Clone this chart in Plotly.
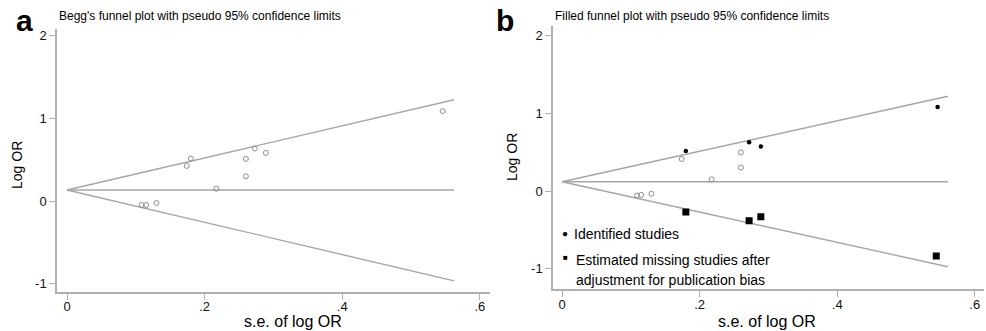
import plotly.graph_objects as go

W, H = 986, 331

# ---- data ----
# Panel a: Begg's funnel plot (identified studies)
se_a = [0.1085, 0.115, 0.130, 0.174, 0.180, 0.217, 0.260, 0.260, 0.273, 0.289, 0.546]
lor_a = [-0.048, -0.048, -0.024, 0.424, 0.513, 0.149, 0.299, 0.509, 0.634, 0.582, 1.087]
funnel_se_a = [0.0, 0.5625]
funnel_mid_a = [0.133, 0.133]
funnel_up_a = [0.133, 1.225]
funnel_lo_a = [0.133, -0.965]

# Panel b: filled funnel plot
se_b_open = [0.109, 0.115, 0.130, 0.174, 0.2176, 0.260, 0.260]
lor_b_open = [-0.058, -0.050, -0.035, 0.412, 0.150, 0.302, 0.497]
se_b_dot = [0.180, 0.272, 0.289, 0.546]
lor_b_dot = [0.514, 0.628, 0.572, 1.082]
se_b_fill = [0.180, 0.272, 0.289, 0.544]
lor_b_fill = [-0.270, -0.382, -0.330, -0.837]
funnel_se_b = [0.0, 0.561]
funnel_mid_b = [0.12, 0.12]
funnel_up_b = [0.12, 1.22]
funnel_lo_b = [0.12, -0.975]

xtick_vals = [0, 0.2, 0.4, 0.6]
xtick_text = ["0", ".2", ".4", ".6"]
ytick_vals = [-1, 0, 1, 2]
ytick_text = ["-1", "0", "1", "2"]

FONT = "Liberation Sans, Arial, Helvetica, sans-serif"
LINE_GRAY = "#a6a6a6"
AXIS_GRAY = "#b0b0b0"
PT_GRAY = "#8c8c8c"

fig = go.Figure()

def add_funnel(xs, mid, up, lo, xa, ya):
    for ys in (mid, up, lo):
        fig.add_trace(go.Scatter(x=xs, y=ys, mode="lines", xaxis=xa, yaxis=ya,
                                 line=dict(color=LINE_GRAY, width=1.4),
                                 showlegend=False, hoverinfo="skip"))

# panel a
add_funnel(funnel_se_a, funnel_mid_a, funnel_up_a, funnel_lo_a, "x", "y")
fig.add_trace(go.Scatter(x=se_a, y=lor_a, mode="markers", xaxis="x", yaxis="y",
                         marker=dict(symbol="circle-open", size=5, color=PT_GRAY,
                                     line=dict(width=1, color=PT_GRAY)),
                         showlegend=False))

# panel b
add_funnel(funnel_se_b, funnel_mid_b, funnel_up_b, funnel_lo_b, "x2", "y2")
fig.add_trace(go.Scatter(x=se_b_open, y=lor_b_open, mode="markers", xaxis="x2", yaxis="y2",
                         marker=dict(symbol="circle-open", size=5, color=PT_GRAY,
                                     line=dict(width=1, color=PT_GRAY)),
                         showlegend=False))
fig.add_trace(go.Scatter(x=se_b_dot, y=lor_b_dot, mode="markers", xaxis="x2", yaxis="y2",
                         marker=dict(symbol="circle", size=4.5, color="#000000"),
                         name="Identified studies", showlegend=False))
fig.add_trace(go.Scatter(x=se_b_fill, y=lor_b_fill, mode="markers", xaxis="x2", yaxis="y2",
                         marker=dict(symbol="square", size=7, color="#000000"),
                         name="Estimated missing studies", showlegend=False))

def px_x(p):
    return p / W

def px_y(p):
    return 1 - p / H

axis_common = dict(showline=True, linecolor=AXIS_GRAY, linewidth=1.5,
                   ticks="outside", tickcolor=AXIS_GRAY, ticklen=6, tickwidth=1.2,
                   showgrid=False, zeroline=False,
                   tickfont=dict(family=FONT, size=13, color="#111111"))

fig.update_layout(
    width=W, height=H,
    margin=dict(l=0, r=0, t=0, b=0),
    paper_bgcolor="white", plot_bgcolor="white",
    showlegend=False,
    xaxis=dict(domain=[px_x(57), px_x(490)], range=[-0.01453, 0.6148],
               anchor="y", tickvals=xtick_vals, ticktext=xtick_text,
               ticklabelstandoff=-4, **axis_common),
    yaxis=dict(domain=[px_y(292), px_y(29)], range=[-1.100, 2.080],
               anchor="x", tickvals=ytick_vals, ticktext=ytick_text, **axis_common),
    xaxis2=dict(domain=[px_x(553), px_x(984)], range=[-0.0131, 0.6134],
                anchor="y2", tickvals=xtick_vals, ticktext=xtick_text,
                ticklabelstandoff=-4, **axis_common),
    yaxis2=dict(domain=[px_y(289.3), px_y(26)], range=[-1.265, 2.124],
                anchor="x2", tickvals=ytick_vals, ticktext=ytick_text, **axis_common),
)

ann = []
def text(x, y, s, size, xanchor="left", angle=0):
    ann.append(dict(x=px_x(x), y=px_y(y), xref="paper", yref="paper", text=s,
                    showarrow=False, xanchor=xanchor, yanchor="middle", textangle=angle,
                    font=dict(family=FONT, size=size, color="#000000")))

# panel labels
text(14, 20, "<b>a</b>", 30)
text(494, 20, "<b>b</b>", 30)
# titles
text(57, 16, "Begg's funnel plot with pseudo 95% confidence limits", 12)
text(553, 16, "Filled funnel plot with pseudo 95% confidence limits", 12)
# axis titles
text(293, 321, "s.e. of log OR", 16, xanchor="center")
text(767, 321, "s.e. of log OR", 16, xanchor="center")
text(17, 165, "Log OR", 14, xanchor="center", angle=-90)
text(512, 157, "Log OR", 14, xanchor="center", angle=-90)
# legend of panel b
text(560, 233, "\u25CF", 10)
text(572, 234, "Identified studies", 14)
text(561, 257, "\u25A0", 8)
text(574, 260, "Estimated missing studies after", 14)
text(574, 280, "adjustment for publication bias", 14)

fig.update_layout(annotations=ann)

fig.write_html("out.html",
               config={"displayModeBar": False},
               post_script="document.body.style.margin='0';document.body.style.overflow='hidden';")
